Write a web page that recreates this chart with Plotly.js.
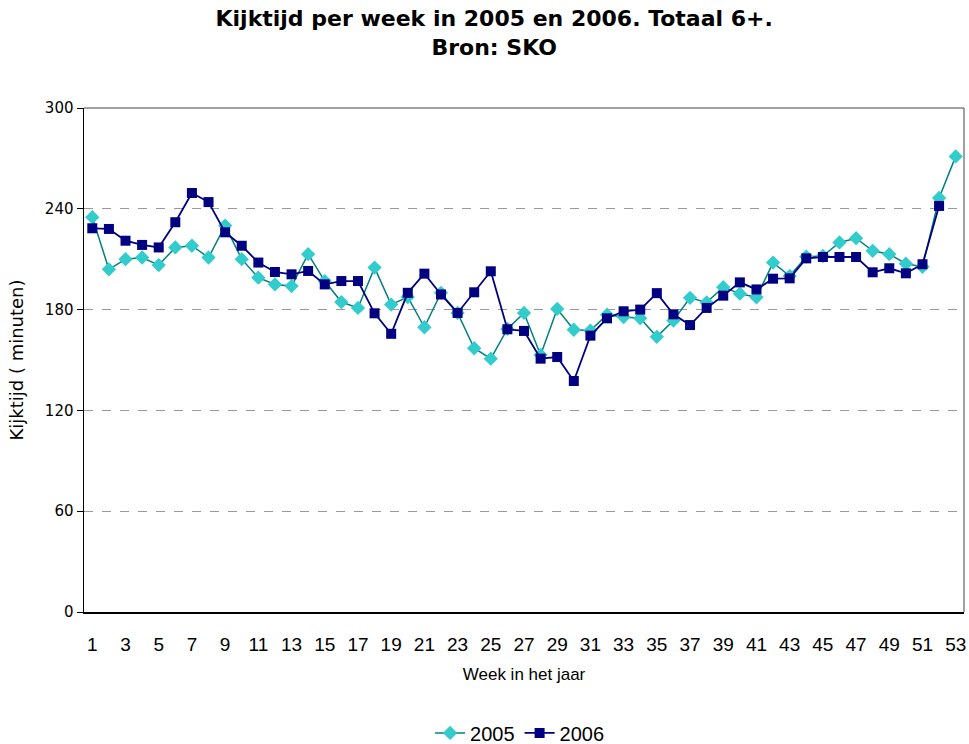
<!DOCTYPE html>
<html><head><meta charset="utf-8">
<script src="https://cdn.plot.ly/plotly-3.0.1.min.js"></script>
<style>html,body{margin:0;padding:0;background:#fff}#chart{width:969px;height:744px}</style>
</head><body><div id="chart"></div>
<script>
const weeks = Array.from({length: 53}, (_, i) => i + 1);
const weeks2006 = weeks.slice(0, 52);
const values2005 = [235, 204, 210, 211, 206.5, 217, 218, 211, 230, 210,
  199, 195, 194, 213, 197, 184.5, 181, 205, 183, 187.5,
  169.5, 190, 178, 157, 150.8, 168.5, 178, 153, 180.4, 168,
  167.5, 177, 175.6, 174.8, 163.8, 173.5, 187, 184.3, 193.3, 189.5,
  187.3, 208, 200, 211.5, 211.9, 220, 222.5, 215, 213, 207.3,
  205.5, 246.5, 271.2];
const values2006 = [228.4, 228, 221, 218.5, 217, 232, 249.4, 244, 226, 218,
  208, 202.4, 201, 203, 195, 197, 197, 177.8, 165.6, 190,
  201.4, 189, 178, 190.3, 202.8, 168.3, 167.3, 150.8, 151.8, 137.5,
  164.5, 174.8, 179, 180, 189.8, 177.2, 170.8, 181, 188.3, 196.2,
  192, 198.4, 198.6, 210.5, 211.3, 211.3, 211.3, 202.2, 204.6, 201.6,
  207, 241.7];
const labelWeeks = weeks.filter(w => w % 2 === 1);
const boundaries = Array.from({length: 54}, (_, i) => i + 0.5);
const yTicks = [0, 60, 120, 180, 240, 300];

const narrow = 'Liberation Sans, Arial, sans-serif';
const verdana = 'DejaVu Sans, Verdana, sans-serif';

const traces = [
  {x: weeks, y: values2005, name: '2005', type: 'scatter', mode: 'lines+markers',
   line: {color: '#008080', width: 1.5},
   marker: {symbol: 'diamond', size: 11, color: '#33CCCC', line: {width: 0}}},
  {x: weeks2006, y: values2006, name: '2006', type: 'scatter', mode: 'lines+markers',
   line: {color: '#000080', width: 1.8},
   marker: {symbol: 'square', size: 10, color: '#000080', line: {width: 0}}}
];

const layout = {
  width: 969, height: 744,
  paper_bgcolor: '#fff', plot_bgcolor: '#fff',
  margin: {l: 84, r: 5, t: 108, b: 132, autoexpand: false},
  title: {text: '<b>Kijktijd per week in 2005 en 2006. Totaal 6+.<br>Bron: SKO</b>',
    font: {family: verdana, size: 22, color: '#000'}, x: 0.51, xanchor: 'center',
    yref: 'container', y: 0.965, yanchor: 'middle', automargin: false},
  showlegend: true,
  legend: {orientation: 'h', x: 0.495, xanchor: 'center', y: -0.24, yanchor: 'middle',
    font: {family: narrow, size: 20, color: '#000'}, tracegroupgap: 0},
  xaxis: {range: [0.5, 53.5], tickvals: labelWeeks, ticktext: labelWeeks.map(String),
    ticks: 'outside', ticklen: 15, tickcolor: 'rgba(0,0,0,0)', showgrid: false, zeroline: false,
    showline: true, linecolor: '#000', linewidth: 1.5, automargin: false,
    mirror: false, tickfont: {family: narrow, size: 19, color: '#000'},
    title: {text: 'Week in het jaar', font: {family: narrow, size: 17, color: '#000'}, standoff: 14},
    fixedrange: true},
  xaxis2: {overlaying: 'x', anchor: 'y', side: 'bottom', range: [0.5, 53.5], tickvals: boundaries,
    ticks: 'outside', ticklen: 6, tickcolor: '#000', tickwidth: 1, showticklabels: false,
    showgrid: false, zeroline: false, showline: false, automargin: false},
  yaxis: {range: [0, 300], tickvals: yTicks, ticks: 'outside', ticklen: 6, tickcolor: '#000',
    showgrid: true, gridcolor: '#999', griddash: 'dash', gridwidth: 1,
    zeroline: false, showline: true, linecolor: '#000', linewidth: 1.5, automargin: false,
    tickfont: {family: verdana, size: 15, color: '#000'},
    title: {text: 'Kijktijd ( minuten)', font: {family: verdana, size: 18, color: '#000'}, standoff: 16},
    fixedrange: true},
  shapes: [
    {type: 'line', xref: 'paper', yref: 'paper', x0: 0, x1: 1, y0: 1, y1: 1, line: {color: '#808080', width: 1.5}},
    {type: 'line', xref: 'paper', yref: 'paper', x0: 1, x1: 1, y0: 0, y1: 1, line: {color: '#808080', width: 1.5}}
  ]
};
Plotly.newPlot('chart', traces, layout, {displayModeBar: false, staticPlot: true});
</script></body></html>
